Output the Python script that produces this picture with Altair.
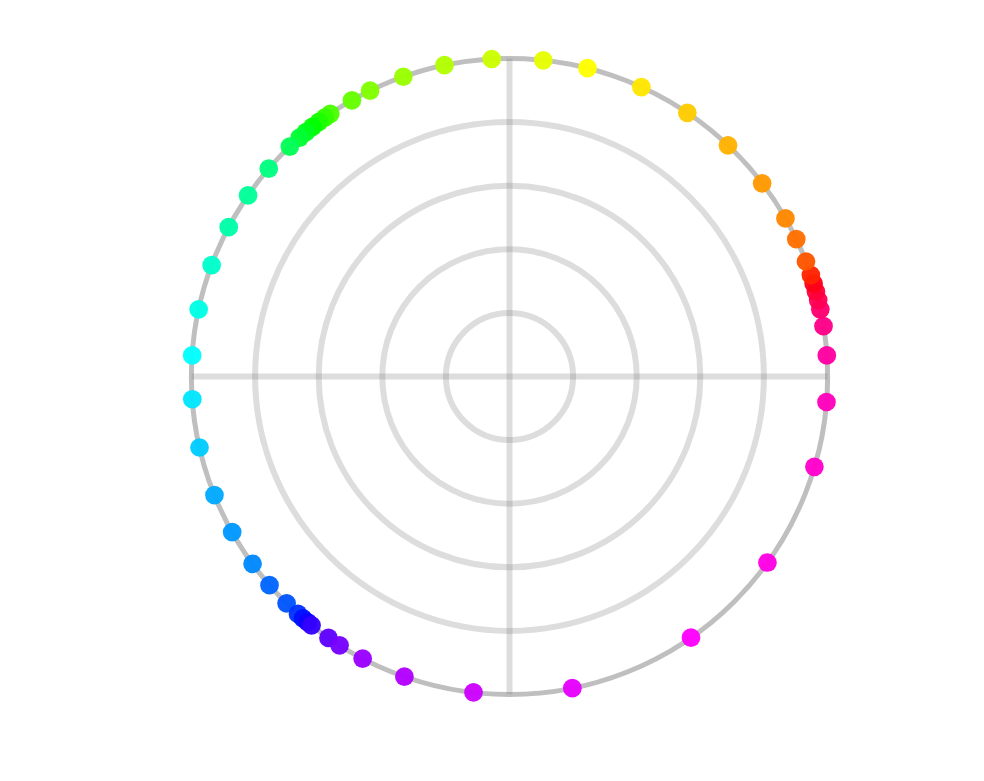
import altair as alt
import pandas as pd

# Angle of each point (degrees, counter-clockwise from east) and its hue
angle_deg = [3.8, 9.1, 12.2, 13.9, 15.5, 17.0, 18.6, 21.2, 25.6, 29.8,
             37.4, 46.6, 56.0, 65.5, 75.8, 83.9, 93.2, 101.8, 109.5, 116.0,
             119.7, 124.3, 125.5, 126.8, 128.3, 129.8, 131.3, 133.7, 139.2, 145.3,
             152.0, 159.5, 167.8, 176.2, 184.1, 192.9, 201.9, 209.3, 216.1, 221.0,
             225.5, 228.3, 229.5, 230.6, 231.5, 235.3, 237.7, 242.5, 250.7, 263.5,
             281.4, 304.8, 324.2, 343.5, 355.4]
hue_deg = [322, 328, 334, 340, 346, 354, 8, 20, 26, 32,
           36, 42, 48, 54, 60, 66, 72, 78, 84, 90,
           96, 102, 108, 114, 120, 126, 132, 140, 150, 156,
           160, 168, 174, 180, 186, 192, 200, 204, 208, 216,
           220, 228, 236, 244, 252, 262, 268, 276, 282, 288,
           294, 300, 306, 312, 316]
grid_r = [1, 2, 3, 4]
outer_r = [5]

colors = ["hsl(%d,100%%,50%%)" % h for h in hue_deg]
pts = pd.DataFrame({"angle": angle_deg, "color": colors})
grid = pd.DataFrame({"r": grid_r})
outer = pd.DataFrame({"r": outer_r})

UNIT = 63.6
W, H = 968, 765
cx, cy = 501.5, 368.5
xs = alt.Scale(domain=[-cx / UNIT, (W - cx) / UNIT], nice=False, zero=False)
ys = alt.Scale(domain=[-(H - cy) / UNIT, cy / UNIT], nice=False, zero=False)
rs = alt.Scale(type="linear", domain=[0, 5], range=[0, 5 * UNIT], zero=True, nice=False)

GRID = "#808080"

rings = alt.Chart(grid).mark_arc(filled=False, stroke=GRID, strokeOpacity=0.27,
                                 strokeWidth=6).encode(
    x=alt.X(datum=0, scale=xs, axis=None),
    y=alt.Y(datum=0, scale=ys, axis=None),
    theta=alt.value(0),
    theta2=alt.value(6.2832),
    radius=alt.Radius("r:Q", scale=rs, stack=None),
)

hline = alt.Chart(outer).mark_rule(stroke=GRID, strokeOpacity=0.27, strokeWidth=6).encode(
    x=alt.X(datum=-5.0, scale=xs, axis=None),
    x2=alt.X2(datum=5.0),
    y=alt.Y(datum=0, scale=ys, axis=None),
)
vline = alt.Chart(outer).mark_rule(stroke=GRID, strokeOpacity=0.27, strokeWidth=6).encode(
    x=alt.X(datum=0, scale=xs, axis=None),
    y=alt.Y(datum=-5.0, scale=ys, axis=None),
    y2=alt.Y2(datum=5.0),
)

outer_ring = alt.Chart(outer).mark_arc(filled=False, stroke=GRID, strokeOpacity=0.5,
                                       strokeWidth=5).encode(
    x=alt.X(datum=0, scale=xs, axis=None),
    y=alt.Y(datum=0, scale=ys, axis=None),
    theta=alt.value(0),
    theta2=alt.value(6.2832),
    radius=alt.Radius("r:Q", scale=rs, stack=None),
)

points = alt.Chart(pts).transform_calculate(
    px="5*cos(datum.angle*PI/180)",
    py="5*sin(datum.angle*PI/180)",
).mark_circle(size=350, opacity=0.96).encode(
    x=alt.X("px:Q", scale=xs, axis=None),
    y=alt.Y("py:Q", scale=ys, axis=None),
    color=alt.Color("color:N", scale=None),
)

chart = alt.layer(rings, hline, vline, outer_ring, points).properties(
    width=W, height=H, padding=0, background="white", autosize="none"
).configure_view(stroke=None)

chart.save("out.html", embed_options={"renderer": "svg", "actions": False})
